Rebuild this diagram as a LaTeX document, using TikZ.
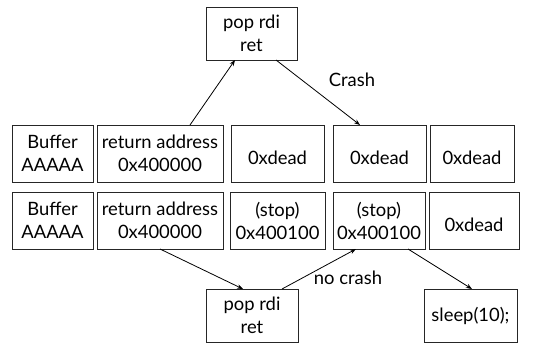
\documentclass[tikz,border=0pt]{standalone}
\usepackage{fontspec}
\setmainfont{Lato}
\usetikzlibrary{arrows.meta}
\begin{document}
\begin{tikzpicture}[x=1pt,y=-1pt,
  cell/.style={draw=black!85,line width=0.8pt,rectangle,inner sep=0pt,outer sep=0pt,
    align=center,font=\fontsize{18.4}{23}\selectfont},
  conn/.style={line width=0.8pt,-{Stealth[length=6pt,width=4.5pt]}},
  lbl/.style={font=\fontsize{18.4}{23}\selectfont,inner sep=0pt,anchor=base}]
\useasboundingbox (0,0) rectangle (546,343);
% row 1
\node[cell,minimum width=81,minimum height=57] (a1) at (52.5,153.5) {Buffer\\AAAAA};
\node[cell,minimum width=126,minimum height=57] (a2) at (160,153.5) {return address\\0x400000};
\node[cell,minimum width=93,minimum height=57] (a3) at (277.5,153.5) {\mbox{}\\0xdead};
\node[cell,minimum width=93,minimum height=57] (a4) at (379.5,153.5) {\mbox{}\\0xdead};
\node[cell,minimum width=84,minimum height=57] (a5) at (472,153.5) {\mbox{}\\0xdead};
% row 2
\node[cell,minimum width=81,minimum height=57] (b1) at (52.5,220.5) {Buffer\\AAAAA};
\node[cell,minimum width=126,minimum height=57] (b2) at (160,220.5) {return address\\0x400000};
\node[cell,minimum width=95,minimum height=57] (b3) at (277.5,220.5) {(stop)\\0x400100};
\node[cell,minimum width=92,minimum height=57] (b4) at (379,220.5) {(stop)\\0x400100};
\node[cell,minimum width=90,minimum height=57] (b5) at (474,220.5) {\mbox{}\\0xdead};
% gadgets
\node[cell,minimum width=91,minimum height=53] (p1) at (251.5,33.5) {pop rdi\\ret};
\node[cell,minimum width=92,minimum height=53] (p2) at (252,315.5) {pop rdi\\ret};
\node[cell,minimum width=93,minimum height=53] (s1) at (470.5,315.5) {sleep(10);};
% connectors
\draw[conn] ([xshift=30pt]a2.north) -- ([xshift=-16.5pt]p1.south);
\draw[conn] ([xshift=24.5pt]p1.south) -- ([xshift=-19.5pt]a4.north);
\node[lbl] (crash) at (352,86) {Crash};
\draw[conn] (b2.south) -- ([xshift=-9pt]p2.north);
\draw[conn] ([xshift=30pt]p2.north) -- ([xshift=-23pt]b4.south);
\node[lbl] (nocrash) at (348,284) {no crash};
\draw[conn] ([xshift=29pt]b4.south) -- ([xshift=1.5pt]s1.north);
\end{tikzpicture}
\end{document}
